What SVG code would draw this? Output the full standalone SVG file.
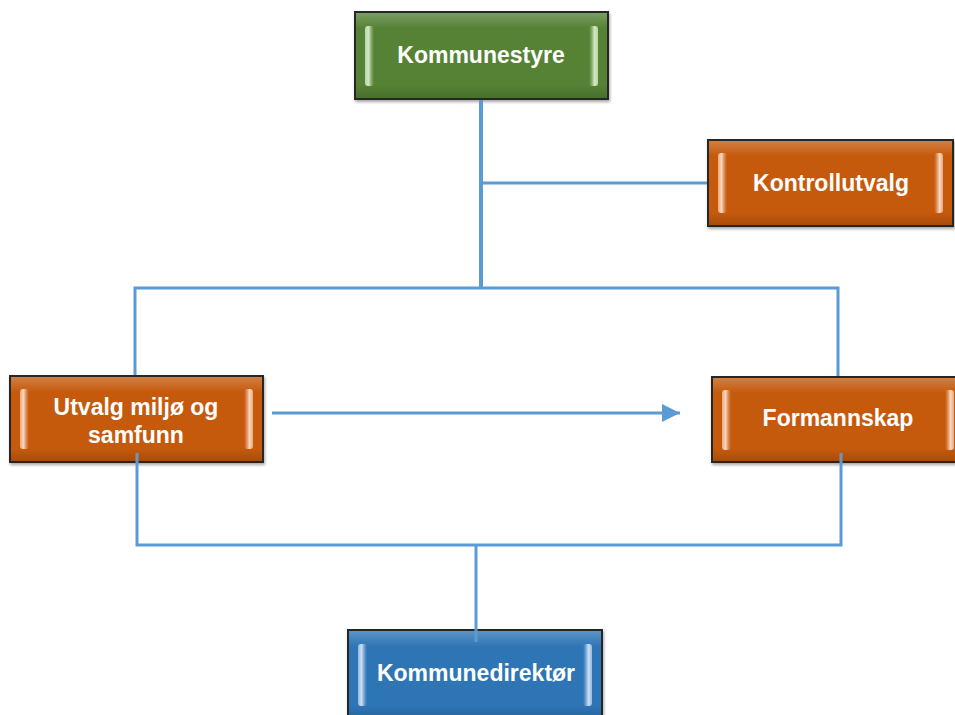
<svg xmlns="http://www.w3.org/2000/svg" width="955" height="715" viewBox="0 0 955 715">
<style>
.box{stroke:#262626;stroke-width:2}
.green{fill:#548235}
.orange{fill:#c55a11}
.blue{fill:#2e75b6}
.lbl{font-family:"Liberation Sans",Arial,sans-serif;font-weight:bold;font-size:23px;fill:#ffffff;text-anchor:middle}
.conn{stroke:#5b9bd5;fill:none;stroke-width:3}
</style>
<defs>
<linearGradient id="gHi" x1="0" y1="0" x2="1" y2="0">
<stop offset="0" stop-color="#c5e0b4" stop-opacity="0.9"/><stop offset="0.4" stop-color="#e2f0d9" stop-opacity="0.9"/><stop offset="1" stop-color="#a9d18e" stop-opacity="0"/>
</linearGradient>
<linearGradient id="gHiR" x1="1" y1="0" x2="0" y2="0">
<stop offset="0" stop-color="#c5e0b4" stop-opacity="0.9"/><stop offset="0.4" stop-color="#e2f0d9" stop-opacity="0.9"/><stop offset="1" stop-color="#a9d18e" stop-opacity="0"/>
</linearGradient>
<linearGradient id="oHi" x1="0" y1="0" x2="1" y2="0">
<stop offset="0" stop-color="#f4b183" stop-opacity="0.9"/><stop offset="0.4" stop-color="#fbe5d6" stop-opacity="0.9"/><stop offset="1" stop-color="#f4b183" stop-opacity="0"/>
</linearGradient>
<linearGradient id="oHiR" x1="1" y1="0" x2="0" y2="0">
<stop offset="0" stop-color="#f4b183" stop-opacity="0.9"/><stop offset="0.4" stop-color="#fbe5d6" stop-opacity="0.9"/><stop offset="1" stop-color="#f4b183" stop-opacity="0"/>
</linearGradient>
<linearGradient id="bHi" x1="0" y1="0" x2="1" y2="0">
<stop offset="0" stop-color="#9dc3e6" stop-opacity="0.9"/><stop offset="0.4" stop-color="#deebf7" stop-opacity="0.9"/><stop offset="1" stop-color="#9dc3e6" stop-opacity="0"/>
</linearGradient>
<linearGradient id="bHiR" x1="1" y1="0" x2="0" y2="0">
<stop offset="0" stop-color="#9dc3e6" stop-opacity="0.9"/><stop offset="0.4" stop-color="#deebf7" stop-opacity="0.9"/><stop offset="1" stop-color="#9dc3e6" stop-opacity="0"/>
</linearGradient>
<linearGradient id="topShade" x1="0" y1="0" x2="0" y2="1">
<stop offset="0" stop-color="#ffffff" stop-opacity="0.22"/><stop offset="0.18" stop-color="#ffffff" stop-opacity="0"/>
<stop offset="0.85" stop-color="#000000" stop-opacity="0"/><stop offset="1" stop-color="#000000" stop-opacity="0.15"/>
</linearGradient>
<filter id="sh" x="-5%" y="-5%" width="110%" height="120%">
<feDropShadow dx="1" dy="2" stdDeviation="1.5" flood-color="#000" flood-opacity="0.35"/>
</filter>
<marker id="arr" viewBox="0 0 10 10" refX="10" refY="5" markerWidth="6" markerHeight="6" markerUnits="strokeWidth" orient="auto">
<path d="M0,0 L10,5 L0,10 Z" fill="#5b9bd5"/>
</marker>
</defs>

<g id="kommunestyre">
<rect class="box green" x="355" y="12" width="253" height="87" filter="url(#sh)"/>
<rect x="356" y="13" width="251" height="85" fill="url(#topShade)"/>
<rect x="365" y="26" width="9" height="60" rx="3" fill="url(#gHi)"/>
<rect x="589" y="26" width="9" height="60" rx="3" fill="url(#gHiR)"/>
<text class="lbl" x="481" y="63">Kommunestyre</text>
</g>

<g id="kontrollutvalg">
<rect class="box orange" x="708" y="140" width="245" height="86" filter="url(#sh)"/>
<rect x="709" y="141" width="243" height="84" fill="url(#topShade)"/>
<rect x="718" y="153" width="9" height="60" rx="3" fill="url(#oHi)"/>
<rect x="934" y="153" width="9" height="60" rx="3" fill="url(#oHiR)"/>
<text class="lbl" x="831" y="191">Kontrollutvalg</text>
</g>

<g id="utvalg">
<rect class="box orange" x="10" y="376" width="253" height="86" filter="url(#sh)"/>
<rect x="11" y="377" width="251" height="84" fill="url(#topShade)"/>
<rect x="20" y="389" width="9" height="60" rx="3" fill="url(#oHi)"/>
<rect x="244" y="389" width="9" height="60" rx="3" fill="url(#oHiR)"/>
<text class="lbl" x="136" y="415">Utvalg miljø og</text>
<text class="lbl" x="136" y="443">samfunn</text>
</g>

<g id="formannskap">
<rect class="box orange" x="712" y="377" width="250" height="85" filter="url(#sh)"/>
<rect x="713" y="378" width="248" height="83" fill="url(#topShade)"/>
<rect x="722" y="390" width="9" height="60" rx="3" fill="url(#oHi)"/>
<rect x="945" y="390" width="9" height="60" rx="3" fill="url(#oHiR)"/>
<text class="lbl" x="838" y="426">Formannskap</text>
</g>

<g id="kommunedirektor">
<rect class="box blue" x="348" y="630" width="254" height="90" filter="url(#sh)"/>
<rect x="349" y="631" width="252" height="88" fill="url(#topShade)"/>
<rect x="358" y="644" width="9" height="62" rx="3" fill="url(#bHi)"/>
<rect x="583" y="644" width="9" height="62" rx="3" fill="url(#bHiR)"/>
<text class="lbl" x="476" y="681">Kommunedirektør</text>
</g>

<g id="connectors">
<line class="conn" x1="481" y1="100" x2="481" y2="289" style="stroke-width:4"/>
<line class="conn" x1="481" y1="183" x2="707" y2="183"/>
<polyline class="conn" points="135,375 135,288 838,288 838,376"/>
<polyline class="conn" points="137,453 137,545 841,545 841,453"/>
<line class="conn" x1="476" y1="545" x2="476" y2="642"/>
<line class="conn" x1="272" y1="413" x2="680" y2="413" marker-end="url(#arr)"/>
</g>
</svg>
